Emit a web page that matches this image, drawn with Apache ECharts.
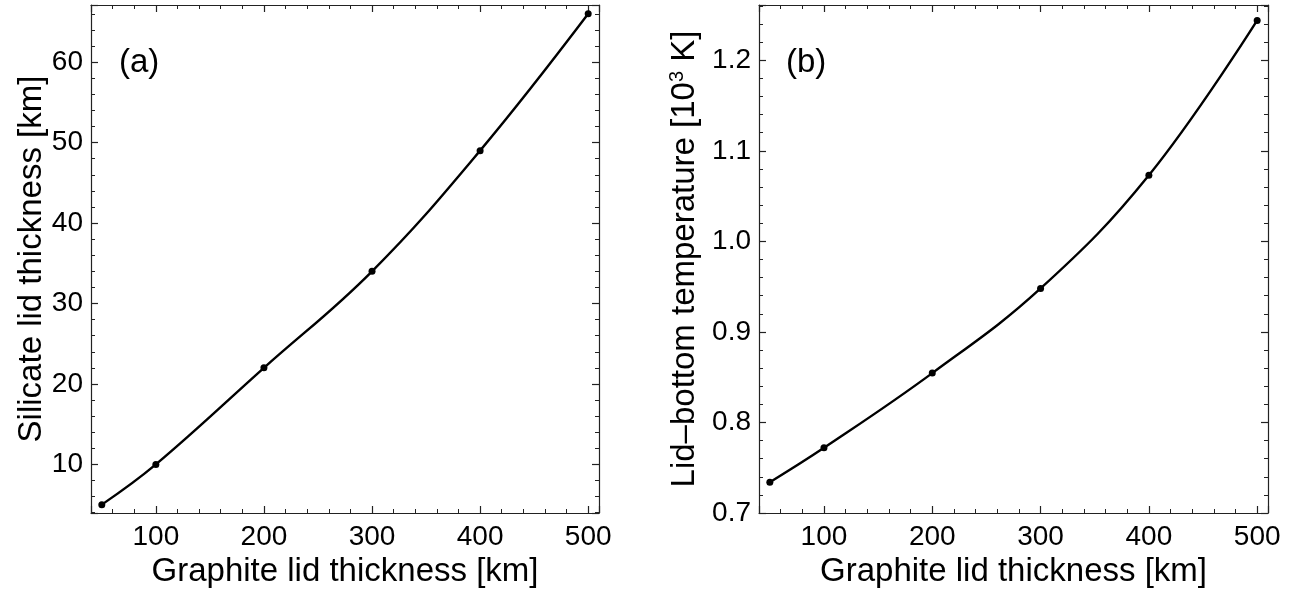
<!DOCTYPE html>
<html>
<head>
<meta charset="utf-8">
<script src="https://cdn.jsdelivr.net/npm/echarts@6/dist/echarts.min.js"></script>
<style>
html,body{margin:0;padding:0;background:#fff;}
#chart{width:1295px;height:603px;}
</style>
</head>
<body>
<div id="chart"></div>
<script>
// Data
var graphiteThickness = [50, 100, 200, 300, 400, 500];
var silicateThickness = [5, 10, 22, 34, 49, 66];
var lidBottomTemperature = [0.734, 0.772, 0.8545, 0.948, 1.073, 1.244];
var panelLabels = ['(a)', '(b)'];
var xTitle = 'Graphite lid thickness [km]';
var yTitleA = 'Silicate lid thickness [km]';

var FONT = 'Liberation Sans, Arial, sans-serif';
var AX = '#222';
var TICK = 28;
var TITLE = 33;

function pairs(xs, ys) { return xs.map(function (x, i) { return [x, ys[i]]; }); }
function isMult(v, step) { var r = v / step; return Math.abs(r - Math.round(r)) < 1e-6; }

function baseAxis(extra) {
  var a = {
    type: 'value',
    axisLine: { show: true, onZero: false, lineStyle: { color: AX, width: 1.2 } },
    axisTick: { show: true, inside: true, length: 7, lineStyle: { color: AX, width: 1.2 } },
    minorTick: { show: true, splitNumber: 5, length: 4, lineStyle: { color: AX, width: 1 } },
    splitLine: { show: false },
    minorSplitLine: { show: false },
    axisLabel: { show: false }
  };
  for (var k in extra) a[k] = extra[k];
  return a;
}

function xAxes(grid, isTop) {
  return baseAxis({
    gridIndex: grid, position: isTop ? 'top' : 'bottom',
    min: 40, max: 510, minInterval: 100, maxInterval: 100,
    axisLabel: isTop ? { show: false } : {
      show: true, color: '#000', fontSize: TICK, fontFamily: FONT, margin: 10,
      formatter: function (v) { return isMult(v, 100) ? String(v) : ''; }
    },
    name: isTop ? '' : xTitle, nameLocation: 'middle', nameGap: 26,
    nameTextStyle: { color: '#000', fontSize: TITLE, fontFamily: FONT }
  });
}

var option = {
  animation: false,
  backgroundColor: '#fff',
  grid: [
    { left: 91, right: 696, top: 5, bottom: 90 },
    { left: 759, right: 27, top: 5, bottom: 90 }
  ],
  xAxis: [xAxes(0, false), xAxes(0, true), xAxes(1, false), xAxes(1, true)],
  yAxis: [
    baseAxis({
      gridIndex: 0, position: 'left', min: 3.96, max: 67.1, minInterval: 10, maxInterval: 10,
      axisLabel: { show: true, color: '#000', fontSize: TICK, fontFamily: FONT, margin: 8,
        formatter: function (v) { return isMult(v, 10) ? String(v) : ''; } },
      name: yTitleA, nameLocation: 'middle', nameGap: 41, nameRotate: 90,
      nameTextStyle: { color: '#000', fontSize: TITLE, fontFamily: FONT }
    }),
    baseAxis({ gridIndex: 0, position: 'right', min: 3.96, max: 67.1, minInterval: 10, maxInterval: 10 }),
    baseAxis({
      gridIndex: 1, position: 'left', min: 0.7, max: 1.261, minInterval: 0.1, maxInterval: 0.1,
      axisLabel: { show: true, color: '#000', fontSize: TICK, fontFamily: FONT, margin: 8,
        formatter: function (v) { return isMult(v, 0.1) ? v.toFixed(1) : ''; } },
      name: '{a|Lid–bottom temperature [10}{s|3}{a| K]}', nameLocation: 'middle', nameGap: 56, nameRotate: 90,
      nameTextStyle: {
        color: '#000', fontSize: TITLE, fontFamily: FONT,
        rich: {
          a: { fontSize: TITLE, fontFamily: FONT, color: '#000', lineHeight: 36 },
          s: { fontSize: 20, fontFamily: FONT, color: '#000', lineHeight: 36, verticalAlign: 'top', padding: [0, 0, 14, 0] }
        }
      }
    }),
    baseAxis({ gridIndex: 1, position: 'right', min: 0.7, max: 1.261, minInterval: 0.1, maxInterval: 0.1 })
  ],
  graphic: [
    { type: 'text', left: 119, top: 46, style: { text: panelLabels[0], fontSize: TITLE, fontFamily: FONT, fill: '#000' } },
    { type: 'text', left: 786, top: 46, style: { text: panelLabels[1], fontSize: TITLE, fontFamily: FONT, fill: '#000' } }
  ],
  series: [
    {
      type: 'line', xAxisIndex: 0, yAxisIndex: 0,
      data: pairs(graphiteThickness, silicateThickness),
      smooth: 0.4,
      symbol: 'circle', symbolSize: 7,
      lineStyle: { color: '#000', width: 2.4 },
      itemStyle: { color: '#000' }
    },
    {
      type: 'line', xAxisIndex: 2, yAxisIndex: 2,
      data: pairs(graphiteThickness, lidBottomTemperature),
      smooth: 0.4,
      symbol: 'circle', symbolSize: 7,
      lineStyle: { color: '#000', width: 2.4 },
      itemStyle: { color: '#000' }
    }
  ]
};

var chart = echarts.init(document.getElementById('chart'));
chart.setOption(option);
</script>
</body>
</html>
